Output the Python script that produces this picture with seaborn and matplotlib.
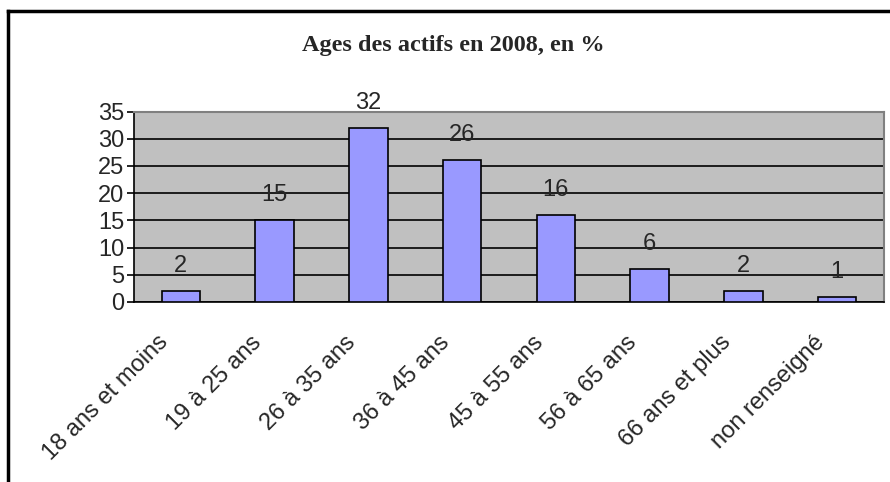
#!/usr/bin/env python3
"""
Ages des actifs en 2008 - Excel style bar chart.
"""
import numpy as np
import matplotlib
matplotlib.use("Agg")
import matplotlib.pyplot as plt
import matplotlib.transforms as mtransforms
from matplotlib.lines import Line2D
from matplotlib.ticker import FixedLocator, NullFormatter
import seaborn as sns

# Data
categories = ["18 ans et moins", "19 à 25 ans", "26 à 35 ans", "36 à 45 ans",
              "45 à 55 ans", "56 à 65 ans", "66 ans et plus", "non renseigné"]
values = [2, 15, 32, 26, 16, 6, 2, 1]
yticks = [0, 5, 10, 15, 20, 25, 30, 35]
title = "Ages des actifs en 2008, en %"

sns.set_style("white")
plt.rcParams['font.family'] = ['Liberation Sans', 'DejaVu Sans']

W, H = 890, 482
FS = 17
fig = plt.figure(figsize=(W / 100, H / 100), dpi=100)
ax = fig.add_axes([134 / W, 1 - 302 / H, (884 - 134) / W, (302 - 111.5) / H])

sns.barplot(x=categories, y=values, ax=ax, color="#9999FF", saturation=1,
            width=0.41, edgecolor="black", linewidth=1.2, zorder=3)

ax.set_facecolor("#C0C0C0")
ax.set_xlim(-0.5, len(categories) - 0.5)
ax.set_ylim(0, 35)
ax.set_yticks(yticks)
ax.set_yticklabels([str(t) for t in yticks], fontsize=FS)
ax.yaxis.grid(True, color="black", lw=1.2, zorder=1)
ax.set_axisbelow(True)

# category labels at centres, tick marks at boundaries
ax.set_xticks(range(len(categories)))
ax.set_xticklabels(categories, rotation=45, ha="right", rotation_mode="anchor", fontsize=FS)
ax.tick_params(axis="x", which="major", length=0, pad=21)
ax.xaxis.set_minor_locator(FixedLocator(np.arange(-0.5, len(categories), 1)))
ax.xaxis.set_minor_formatter(NullFormatter())
ax.tick_params(axis="x", which="minor", length=6, width=1.2, direction="out", color="black")
ax.tick_params(axis="y", length=5, width=1.2, direction="out", color="black", pad=2)
ax.tick_params(axis="both", bottom=True, left=True)
ax.set_xlabel("")
ax.set_ylabel("")

shift = mtransforms.ScaledTranslation(-24 / 100, 0, fig.dpi_scale_trans)
for lab in ax.get_xticklabels():
    lab.set_transform(lab.get_transform() + shift)

for s in ["left", "bottom"]:
    ax.spines[s].set_color("black")
    ax.spines[s].set_linewidth(1.2)
for s in ["top", "right"]:
    ax.spines[s].set_color("#808080")
    ax.spines[s].set_linewidth(1.5)

# value labels above bars
for i, v in enumerate(values):
    ax.annotate(str(v), (i, v), xytext=(0, 14), textcoords="offset pixels",
                ha="center", va="bottom", fontsize=FS, zorder=5)

fig.text(453 / W, 1 - 46 / H, title, ha="center", va="center", fontsize=17.5,
         fontweight="bold", family=["Liberation Serif", "DejaVu Serif"])

# outer chart border (top and left only visible)
fig.add_artist(Line2D([8 / W, 1], [1 - 11 / H] * 2, transform=fig.transFigure,
                      color="black", lw=2.5, solid_capstyle="projecting"))
fig.add_artist(Line2D([8 / W] * 2, [0, 1 - 11 / H], transform=fig.transFigure,
                      color="black", lw=2.5, solid_capstyle="projecting"))

fig.savefig("out.png", dpi=100)
